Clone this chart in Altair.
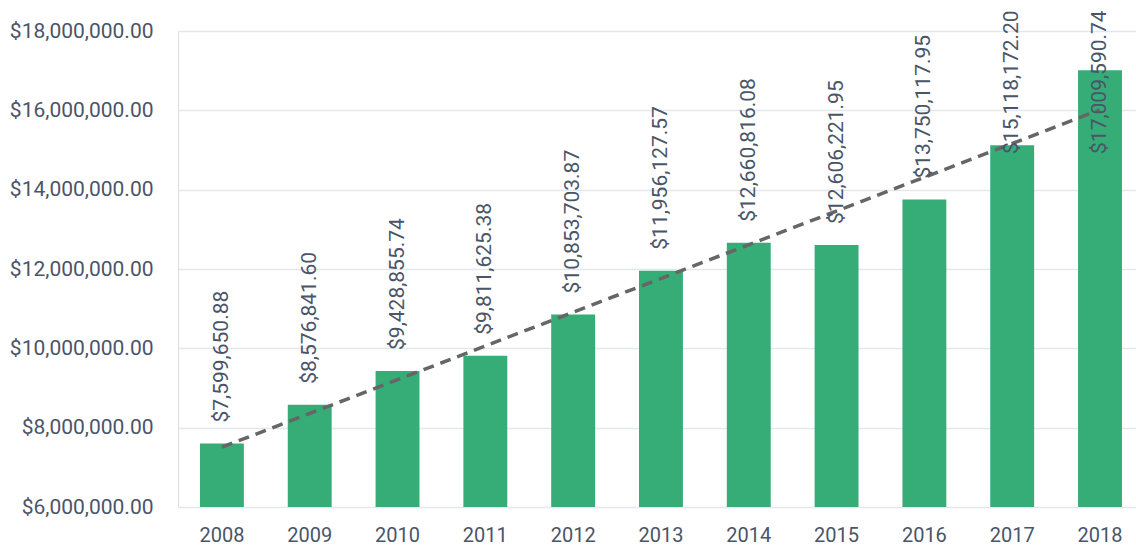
import altair as alt
import pandas as pd

# Yearly totals
years = ["2008", "2009", "2010", "2011", "2012", "2013", "2014", "2015", "2016", "2017", "2018"]
totals = [7599650.88, 8576841.60, 9428855.74, 9811625.38, 10853703.87, 11956127.57,
          12660816.08, 12606221.95, 13750117.95, 15118172.20, 17009590.74]

y_ticks = [6000000, 8000000, 10000000, 12000000, 14000000, 16000000, 18000000]

FONT = "Roboto"
FONT_SIZE = 21
FONT_WEIGHT = 400
TEXT_COLOR = "#4a5568"
BAR_COLOR = "#36ac77"

df = pd.DataFrame({"year": years, "yearnum": [int(y) for y in years], "value": totals})

x_scale = alt.Scale(domain=years, paddingInner=0.5, paddingOuter=0.205, align=0.61)
y_scale = alt.Scale(domain=[6000000, 18000000], nice=False, zero=False)

base = alt.Chart(df)

bars = base.mark_bar(color=BAR_COLOR, clip=True).encode(
    x=alt.X("year:N", scale=x_scale, sort=years,
            axis=alt.Axis(title=None, labelAngle=0, ticks=False, domain=False,
                          labelBaseline="alphabetic", labelPadding=34,
                          labelFontSize=20, labelFont=FONT,
                          labelFontWeight=FONT_WEIGHT,
                          labelColor=TEXT_COLOR, grid=False)),
    y=alt.Y("value:Q", scale=y_scale,
            axis=alt.Axis(title=None, values=y_ticks, format="$,.2f", ticks=False,
                          domain=False, labelPadding=25, labelFontSize=FONT_SIZE,
                          labelFont=FONT, labelFontWeight=FONT_WEIGHT,
                          labelColor=TEXT_COLOR,
                          gridColor="#e3e7ee", gridWidth=1.5)),
    y2=alt.datum(6000000),
)

# value labels sit a little above each bar, held below the top edge
labels = base.transform_calculate(
    labelpos="min(datum.value + 530000, 14900000)"
).mark_text(
    angle=270, align="left", baseline="middle", font=FONT, fontSize=FONT_SIZE,
    fontWeight=FONT_WEIGHT, color=TEXT_COLOR,
).encode(
    x=alt.X("year:N", scale=x_scale, sort=years),
    y=alt.Y("labelpos:Q", scale=y_scale),
    text=alt.Text("value:Q", format="$,.2f"),
)

trend = base.transform_regression(
    "yearnum", "value", method="linear"
).transform_calculate(
    year="toString(datum.yearnum)"
).mark_line(
    color="#666666", strokeWidth=3.5, strokeDash=[11, 7]
).encode(
    x=alt.X("year:N", scale=x_scale, sort=years),
    y=alt.Y("value:Q", scale=y_scale),
)

chart = alt.layer(bars, trend, labels).properties(
    width=958, height=476,
    autosize=alt.AutoSizeParams(type="none"),
    padding={"left": 178, "top": 31, "right": 0, "bottom": 39},
).configure_view(stroke=None).configure(background="white")

chart.save("out.html", embed_options={"renderer": "svg", "actions": False})
